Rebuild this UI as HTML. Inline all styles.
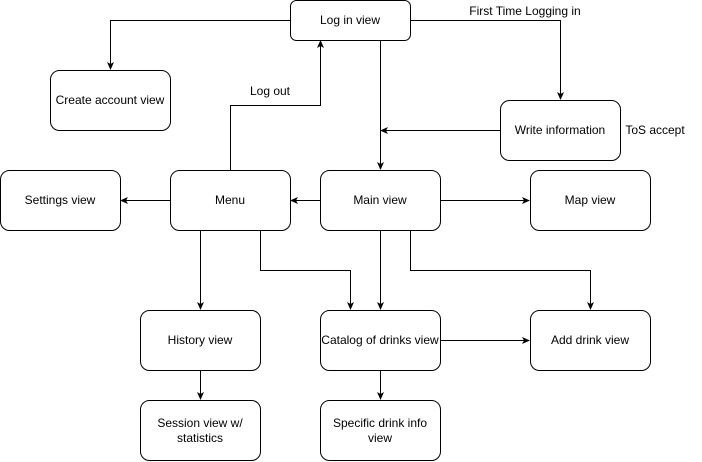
<!DOCTYPE html>
<html><head><meta charset="utf-8"><style>html,body{margin:0;padding:0;background:#fff}svg{display:block}</style></head>
<body>
<svg width="702" height="462" viewBox="0 0 702 462" xmlns="http://www.w3.org/2000/svg" font-family="Liberation Sans, Arial, sans-serif" font-size="12">
<defs><marker id="a" markerWidth="8" markerHeight="8" refX="7" refY="4" orient="auto" markerUnits="userSpaceOnUse"><path d="M0,0.5 L8,4 L0,7.5 L2,4 z" fill="#000"/></marker></defs>
<g fill="none" stroke="#000" stroke-width="1">
<path d="M290.5,20.5 H110.5 V69" marker-end="url(#a)"/>
<path d="M410.5,20.5 H560.5 V99" marker-end="url(#a)"/>
<path d="M380.5,40.5 V169" marker-end="url(#a)"/>
<path d="M500.5,130.5 H381" marker-end="url(#a)"/>
<path d="M230.5,170.5 V105.5 H320.5 V41" marker-end="url(#a)"/>
<path d="M170.5,200.5 H121" marker-end="url(#a)"/>
<path d="M320.5,200.5 H291" marker-end="url(#a)"/>
<path d="M440.5,200.5 H529" marker-end="url(#a)"/>
<path d="M200.5,230.5 V309" marker-end="url(#a)"/>
<path d="M260.5,230.5 V270.5 H350.5 V309" marker-end="url(#a)"/>
<path d="M380.5,230.5 V309" marker-end="url(#a)"/>
<path d="M410.5,230.5 V270.5 H590.5 V309" marker-end="url(#a)"/>
<path d="M440.5,340.5 H529" marker-end="url(#a)"/>
<path d="M200.5,370.5 V399" marker-end="url(#a)"/>
<path d="M380.5,370.5 V399" marker-end="url(#a)"/>
</g>
<g fill="#fff" stroke="#000" stroke-width="1">
<rect x="290.5" y="0.5" width="120" height="40" rx="6"/>
<rect x="50.5" y="70.5" width="120" height="60" rx="9"/>
<rect x="500.5" y="100.5" width="120" height="60" rx="9"/>
<rect x="0.5" y="170.5" width="120" height="60" rx="9"/>
<rect x="170.5" y="170.5" width="120" height="60" rx="9"/>
<rect x="320.5" y="170.5" width="120" height="60" rx="9"/>
<rect x="530.5" y="170.5" width="120" height="60" rx="9"/>
<rect x="140.5" y="310.5" width="120" height="60" rx="9"/>
<rect x="320.5" y="310.5" width="120" height="60" rx="9"/>
<rect x="530.5" y="310.5" width="120" height="60" rx="9"/>
<rect x="140.5" y="400.5" width="120" height="60" rx="9"/>
<rect x="320.5" y="400.5" width="120" height="60" rx="9"/>
</g>
<g fill="#000" text-anchor="middle">
<text x="350" y="24">Log in view</text>
<text x="110" y="104">Create account view</text>
<text x="560" y="134">Write information</text>
<text x="60" y="204">Settings view</text>
<text x="230" y="204">Menu</text>
<text x="380" y="204">Main view</text>
<text x="590" y="204">Map view</text>
<text x="200" y="344">History view</text>
<text x="380" y="344">Catalog of drinks view</text>
<text x="590" y="344">Add drink view</text>
<text x="200" y="427">Session view w/</text>
<text x="200" y="442">statistics</text>
<text x="380" y="427">Specific drink info</text>
<text x="380" y="442">view</text>
<text x="525" y="15">First Time Logging in</text>
<text x="655" y="134">ToS accept</text>
<text x="270" y="95">Log out</text>
</g>
</svg>
</body></html>
